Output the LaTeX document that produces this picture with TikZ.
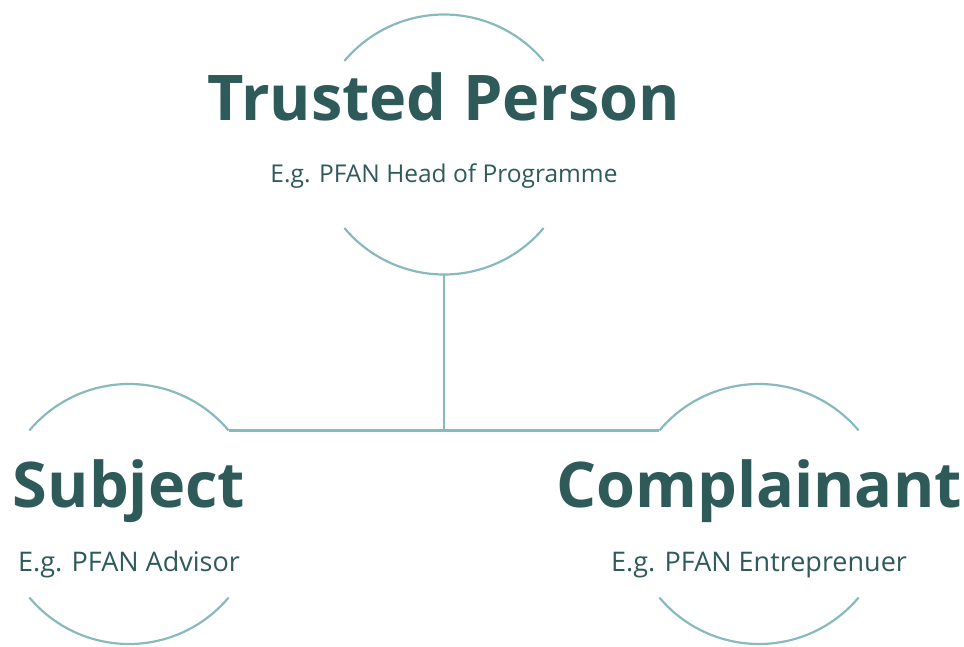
\documentclass[tikz,border=0pt]{standalone}
\usepackage{fontspec}
\setmainfont{Open Sans}

\definecolor{dunkelteal}{HTML}{2F5A5A}
\definecolor{hellteal}{HTML}{88BABD}

\tikzset{
    rolle/.style={circle, minimum size=260pt, inner sep=0pt, outer sep=0pt},
    bogen/.style={draw=hellteal, line width=2.2pt},
    titel/.style={anchor=base, text=dunkelteal, font=\fontsize{63}{63}\selectfont\bfseries},
    beispiel/.style={anchor=base, text=dunkelteal, font=\fontsize{#1}{#1}\selectfont},
    beispiel/.default=27
}

\begin{document}
\begin{tikzpicture}[x=1pt,y=1pt]
    \useasboundingbox (0,0) rectangle (964,646);

    % Kreise der drei Rollen
    \node[rolle] (trusted) at (444,501.5) {};
    \node[rolle] (subject) at (129,132) {};
    \node[rolle] (complainant) at (759,132) {};

    % Bögen oben und unten
    \foreach \k in {trusted,subject,complainant}{
        \draw[bogen] (\k.40) arc[start angle=40, end angle=140, radius=130pt];
        \draw[bogen] (\k.220) arc[start angle=220, end angle=320, radius=130pt];
    }

    % Verbindungslinien
    \draw[bogen] (trusted.south) -- (trusted.south |- subject.40);
    \draw[bogen] (subject.40) -- (complainant.140);

    % Beschriftungen
    \node[titel] (trustedtitel) at (444,525) {Trusted Person};
    \node[beispiel=24.5] (trustedbsp) at (444,463) {E.g. PFAN Head of Programme};
    \node[titel] (subjecttitel) at (129,139) {Subject};
    \node[beispiel] (subjectbsp) at (129,75) {E.g. PFAN Advisor};
    \node[titel] (complainanttitel) at (759,139) {Complainant};
    \node[beispiel] (complainantbsp) at (759,75) {E.g. PFAN Entreprenuer};
\end{tikzpicture}
\end{document}
